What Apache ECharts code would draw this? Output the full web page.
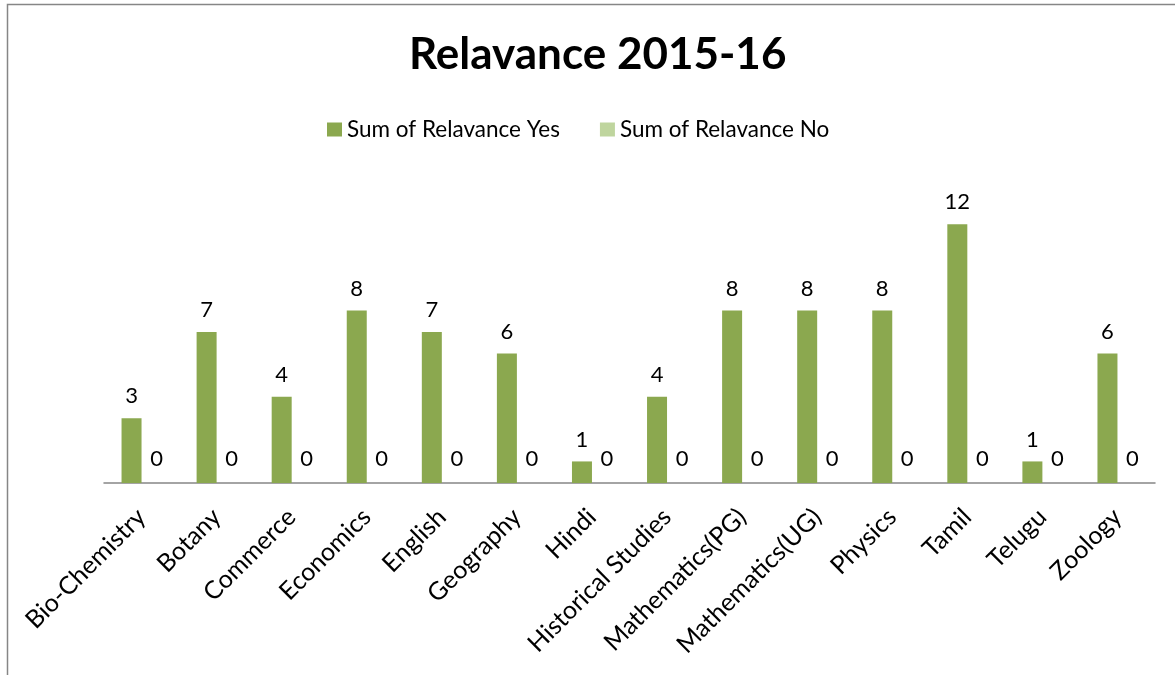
<!DOCTYPE html>
<html>
<head>
<meta charset="utf-8">
<script src="https://cdn.jsdelivr.net/npm/echarts@6/dist/echarts.min.js"></script>
<style>
html,body{margin:0;padding:0;background:#fff;}
#chart{width:1175px;height:675px;}
</style>
</head>
<body>
<div id="chart"></div>
<script>
const titleText = 'Relavance 2015-16';
const categories = ['Bio-Chemistry','Botany','Commerce','Economics','English','Geography','Hindi','Historical Studies','Mathematics(PG)','Mathematics(UG)','Physics','Tamil','Telugu','Zoology'];
const seriesYesName = 'Sum of Relavance Yes';
const seriesNoName = 'Sum of Relavance No';
const yesValues = [3,7,4,8,7,6,1,4,8,8,8,12,1,6];
const noValues = [0,0,0,0,0,0,0,0,0,0,0,0,0,0];

const FONT = 'Lato, "Open Sans", sans-serif';
const chart = echarts.init(document.getElementById('chart'));
chart.setOption({
  backgroundColor: '#fff',
  animation: false,
  graphic: [{
    type: 'rect',
    shape: {x: 7.5, y: 4.5, width: 1200, height: 700},
    style: {fill: 'none', stroke: '#868686', lineWidth: 1.5},
    silent: true, z: -1
  }],
  title: {
    text: titleText,
    left: 404,
    top: 28,
    textStyle: {fontFamily: FONT, fontSize: 44, fontWeight: 'bold', color: '#000'}
  },
  legend: {
    top: 113,
    left: 322,
    itemWidth: 15,
    itemHeight: 14,
    itemGap: 40,
    icon: 'rect',
    textStyle: {fontFamily: FONT, fontSize: 22.5, color: '#000'},
    data: [seriesYesName, seriesNoName]
  },
  grid: {left: 104, right: 20, top: 181, bottom: 192, containLabel: false},
  xAxis: {
    type: 'category',
    data: categories,
    axisLine: {lineStyle: {color: '#868686', width: 1.5}},
    axisTick: {show: false},
    axisLabel: {interval: 0, rotate: 45, margin: 30, fontFamily: FONT, fontSize: 25, color: '#000'}
  },
  yAxis: {
    type: 'value', min: 0, max: 14, interval: 2,
    show: false
  },
  series: [{
    name: seriesYesName,
    type: 'bar',
    data: yesValues,
    barWidth: 20,
    barGap: '0%',
    itemStyle: {color: '#8BA84F'},
    label: {show: true, position: 'top', distance: 11, fontFamily: FONT, fontSize: 22, color: '#000'}
  }, {
    name: seriesNoName,
    type: 'bar',
    data: noValues,
    barWidth: 20,
    barGap: '0%',
    itemStyle: {color: '#BFD59E'},
    label: {show: true, position: 'top', distance: 13, offset: [5, 0], fontFamily: FONT, fontSize: 22, color: '#000'}
  }]
});
</script>
</body>
</html>
